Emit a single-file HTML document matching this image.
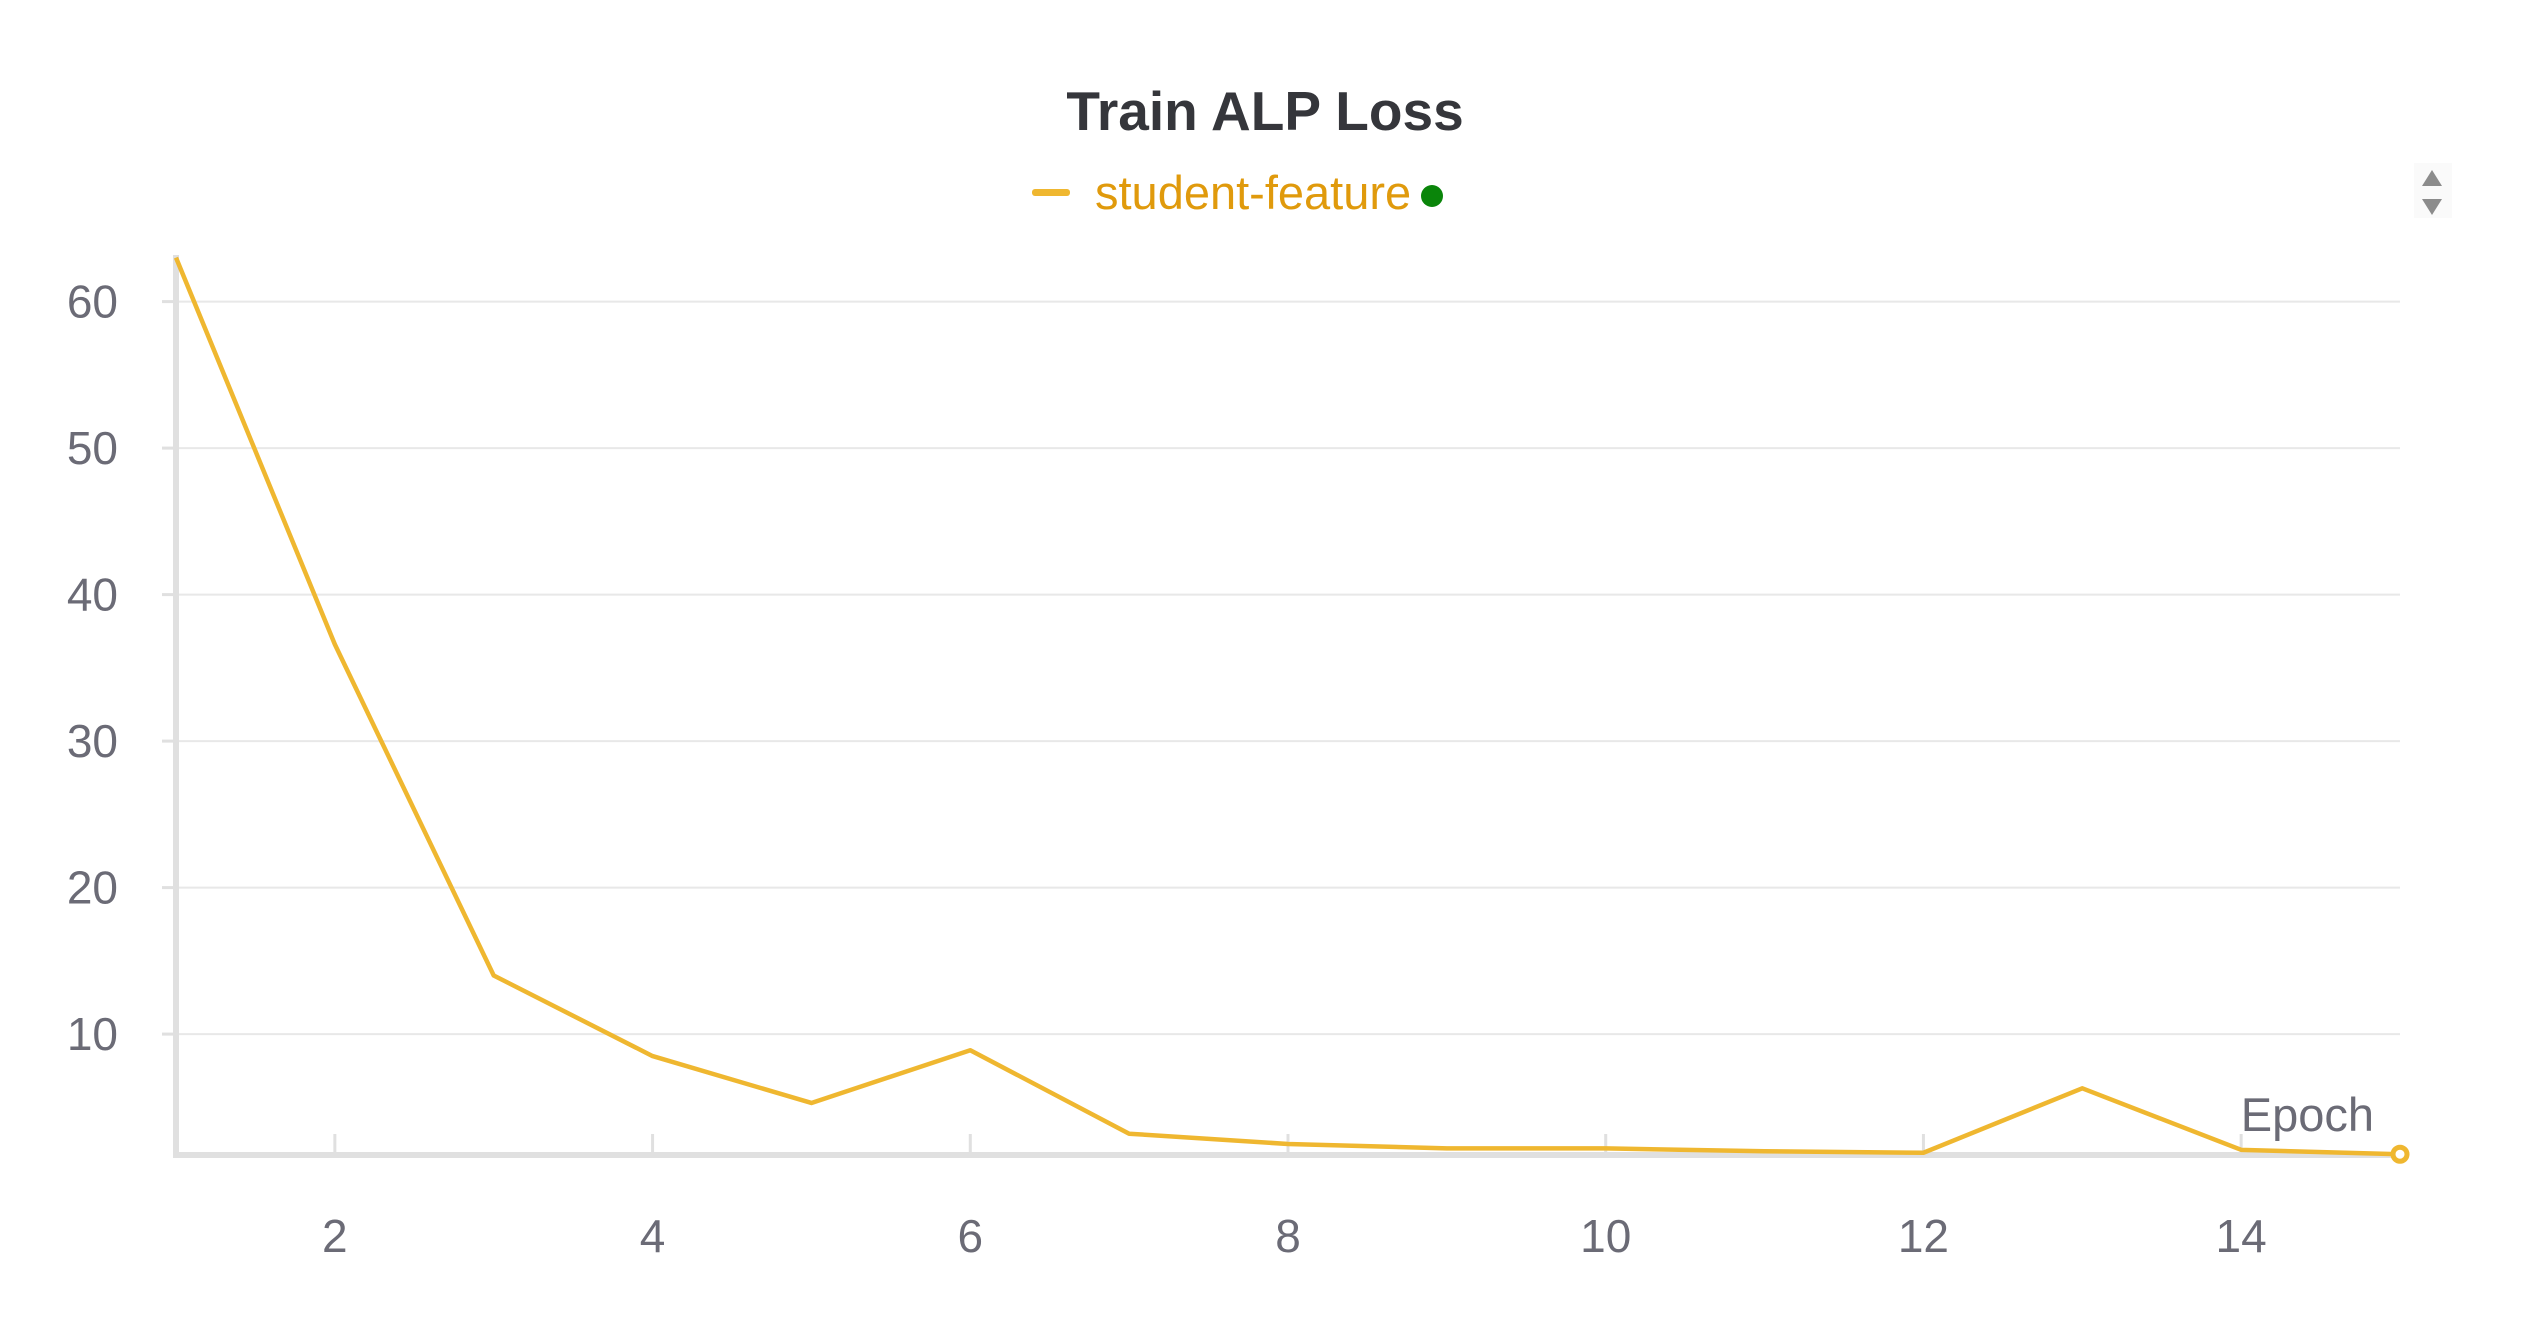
<!DOCTYPE html>
<html><head><meta charset="utf-8"><style>
html,body{margin:0;padding:0;background:#fff;}
svg{display:block;font-family:"Liberation Sans",sans-serif;}
</style></head><body>
<svg id="chart" width="2528" height="1328" viewBox="0 0 2528 1328">
<text x="1265" y="130" text-anchor="middle" font-size="55" font-weight="bold" fill="#35363b">Train ALP Loss</text>
<g>
<rect x="1032" y="189" width="38" height="7" rx="3" fill="#efb730"/>
<text x="1095" y="209" font-size="47" fill="#e09a0c">student-feature</text>
<circle cx="1432" cy="196" r="11" fill="#0a850a"/>
</g>
<g>
<rect x="2414" y="163" width="38" height="55" fill="#fafafa"/>
<polygon points="2422,186 2432,170 2442,186" fill="#8c8c8c"/>
<polygon points="2422,199 2432,215 2442,199" fill="#8c8c8c"/>
</g>
<g id="grid"></g>
<g id="axes"></g>
<g id="series"></g>
<text x="2374" y="1131" text-anchor="end" font-size="47" fill="#6b6b76">Epoch</text>
</svg>
<script>
const epochs=[1,2,3,4,5,6,7,8,9,10,11,12,13,14,15];
const lossValues=[63,36.6,14,8.5,5.3,8.9,3.2,2.5,2.2,2.2,2.0,1.9,6.3,2.1,1.8];
const yTicks=[10,20,30,40,50,60];
const xTicks=[2,4,6,8,10,12,14];
const NS="http://www.w3.org/2000/svg";
const X0=176,X1=2400,YB=1155;
function xs(v){return X0+(v-1)*(X1-X0)/14;}
function ys(v){return 1180.6-v*14.65;}
function mk(t,a,p){const e=document.createElementNS(NS,t);for(const k in a)e.setAttribute(k,a[k]);p.appendChild(e);return e;}
const grid=document.getElementById('grid'),axes=document.getElementById('axes'),ser=document.getElementById('series');
yTicks.forEach(v=>{
 const l=mk('line',{x1:X0,x2:2400,y1:ys(v),y2:ys(v),stroke:'#e8e8e8','stroke-width':2},grid);
 
 
 const tk=mk('line',{x1:X0-14,x2:X0,y1:ys(v),y2:ys(v),stroke:'#e0e0e0','stroke-width':3},axes);
 
 
 const t=mk('text',{x:118,y:ys(v)+16,'text-anchor':'end','font-size':46,fill:'#6b6b76'},axes);
 t.textContent=v;
 
 
});
xTicks.forEach(v=>{
 const tk=mk('line',{x1:xs(v),x2:xs(v),y1:1134,y2:YB,stroke:'#e0e0e0','stroke-width':3},axes);
 
 
 const t=mk('text',{x:xs(v),y:1252,'text-anchor':'middle','font-size':46,fill:'#6b6b76'},axes);
 t.textContent=v;
 
 
});
const ya=mk('line',{x1:X0,x2:X0,y1:255,y2:YB+3,stroke:'#e0e0e0','stroke-width':6},axes);


const xa=mk('line',{x1:X0-3,x2:2400,y1:YB,y2:YB,stroke:'#e0e0e0','stroke-width':6},axes);


const pts=epochs.map((e,i)=>xs(e)+','+ys(lossValues[i])).join(' ');
const pl=mk('polyline',{points:pts,fill:'none',stroke:'#efb730','stroke-width':4.5,'stroke-linejoin':'round'},ser);


const last=epochs.length-1;
const c=mk('circle',{cx:xs(epochs[last]),cy:ys(lossValues[last]),r:7,fill:'#fff',stroke:'#efb730','stroke-width':5},ser);


</script>
</body></html>
